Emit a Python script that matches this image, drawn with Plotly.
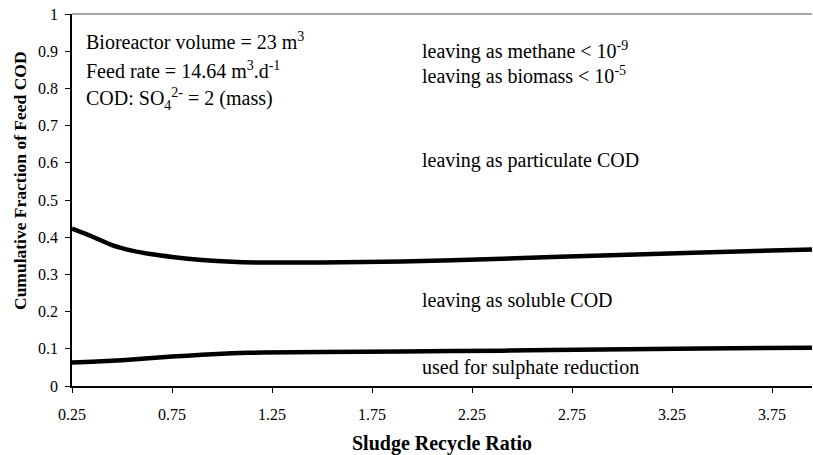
import plotly.graph_objects as go

# Sludge recycle ratio (x) and cumulative fraction of feed COD (boundaries)
recycle_ratio = [0.25, 0.35, 0.45, 0.55, 0.65, 0.75, 0.9, 1.05, 1.2, 1.5, 1.9, 2.4, 2.9, 3.4, 3.95]
cum_soluble = [0.423, 0.402, 0.379, 0.364, 0.354, 0.347, 0.339, 0.334, 0.332, 0.332, 0.335, 0.342, 0.351, 0.359, 0.367]
cum_sulphate = [0.063, 0.065, 0.068, 0.071, 0.075, 0.079, 0.084, 0.088, 0.090, 0.0915, 0.093, 0.095, 0.098, 0.101, 0.103]

x_ticks = [0.25, 0.75, 1.25, 1.75, 2.25, 2.75, 3.25, 3.75]
x_tick_labels = ["0.25", "0.75", "1.25", "1.75", "2.25", "2.75", "3.25", "3.75"]
y_ticks = [0, 0.1, 0.2, 0.3, 0.4, 0.5, 0.6, 0.7, 0.8, 0.9, 1]
y_tick_labels = ["0", "0.1", "0.2", "0.3", "0.4", "0.5", "0.6", "0.7", "0.8", "0.9", "1"]

SERIF = "Times New Roman"

fig = go.Figure()
for ys in (cum_soluble, cum_sulphate):
    fig.add_trace(go.Scatter(
        x=recycle_ratio, y=ys, mode="lines",
        line=dict(color="black", width=4.5, shape="spline", smoothing=0.6),
        showlegend=False, hoverinfo="skip",
    ))

notes_left = [
    ("Bioreactor volume = 23 m<sup>3</sup>", 41),
    ("Feed rate = 14.64 m<sup>3</sup>.d<sup>-1</sup>", 70),
    ("COD: SO<sub>4</sub><sup>2-</sup> = 2 (mass)", 99),
]
notes_right = [
    ("leaving as methane &lt; 10<sup>-9</sup>", 50),
    ("leaving as biomass &lt; 10<sup>-5</sup>", 76),
    ("leaving as particulate COD", 160),
    ("leaving as soluble COD", 300),
    ("used for sulphate reduction", 367),
]

plot_l, plot_r, plot_t, plot_b = 72, 812, 14, 386


def to_paper(xpix, ypix):
    return (xpix - plot_l) / (plot_r - plot_l), (plot_b - ypix) / (plot_b - plot_t)


annotations = []
for xpix, notes in ((84, notes_left), (420, notes_right)):
    for text, ypix in notes:
        px, py = to_paper(xpix, ypix)
        annotations.append(dict(text=text, x=px, y=py, xref="paper", yref="paper",
                                showarrow=False, xanchor="left", yanchor="middle",
                                font=dict(family=SERIF, size=20, color="black")))

# vertical axis title, placed as rotated text
tx, ty = to_paper(20, 181)
annotations.append(dict(text="<b>Cumulative Fraction of Feed COD</b>", x=tx, y=ty,
                        xref="paper", yref="paper", showarrow=False, textangle=-90,
                        xanchor="center", yanchor="middle",
                        font=dict(family=SERIF, size=17.5, color="black")))

fig.update_layout(
    width=813, height=455,
    margin=dict(l=72, r=1, t=14, b=69),
    paper_bgcolor="white", plot_bgcolor="white",
    font=dict(family=SERIF, size=16, color="black"),
    annotations=annotations,
    shapes=[dict(type="line", xref="paper", yref="paper", x0=0, x1=1, y0=1, y1=1,
                 line=dict(color="#a6a6a6", width=2))],
    xaxis=dict(
        range=[0.25, 3.95], tickvals=x_ticks, ticktext=x_tick_labels,
        showgrid=False, zeroline=False, showline=True, linecolor="black", linewidth=1.5,
        ticks="outside", ticklen=5, tickcolor="black", tickwidth=1,
        tickfont=dict(family=SERIF, size=16, color="black"),
        ticklabelstandoff=8,
        title=dict(text="<b>Sludge Recycle Ratio</b>", standoff=16,
                   font=dict(family=SERIF, size=20, color="black")),
    ),
    yaxis=dict(
        range=[0, 1], tickvals=y_ticks, ticktext=y_tick_labels,
        showgrid=False, zeroline=False, showline=True, linecolor="black", linewidth=1.5,
        ticks="outside", ticklen=5, tickcolor="black", tickwidth=1,
        tickfont=dict(family=SERIF, size=16, color="black"),
        ticklabelstandoff=4,
    ),
)

fig.write_html("out.html")
